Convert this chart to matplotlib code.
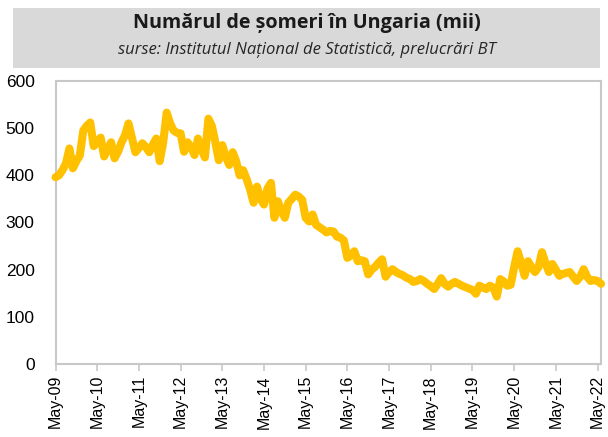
import matplotlib
matplotlib.use("Agg")
import matplotlib.pyplot as plt
from matplotlib.patches import Rectangle

title = "Numărul de șomeri în Ungaria (mii)"
subtitle = "surse: Institutul Național de Statistică, prelucrări BT"

tick_labels = ["May-09", "May-10", "May-11", "May-12", "May-13", "May-14", "May-15",
               "May-16", "May-17", "May-18", "May-19", "May-20", "May-21", "May-22"]

# monthly values, May 2009 .. June 2022 (thousands)
values = [
    396, 400, 411, 425, 457, 415, 430, 442, 495, 505, 512, 462,   # 2009-05 .. 2010-04
    470, 480, 440, 455, 470, 436, 450, 470, 485, 510, 480, 449,   # 2010-05 .. 2011-04
    458, 468, 460, 449, 465, 478, 430, 470, 533, 510, 495, 490,   # 2011-05 .. 2012-04
    489, 450, 470, 460, 443, 478, 455, 438, 520, 505, 470, 432,   # 2012-05 .. 2013-04
    464, 440, 422, 449, 430, 400, 411, 392, 370, 342, 376, 350,   # 2013-05 .. 2014-04
    338, 372, 384, 310, 345, 325, 310, 342, 350, 359, 355, 348,   # 2014-05 .. 2015-04
    310, 302, 317, 295, 290, 285, 279, 282, 281, 270, 268, 262,   # 2015-05 .. 2016-04
    225, 230, 239, 218, 220, 218, 190, 200, 206, 215, 222, 185,   # 2016-05 .. 2017-04
    195, 201, 195, 191, 188, 183, 180, 174, 176, 180, 176, 170,   # 2017-05 .. 2018-04
    165, 159, 170, 182, 170, 164, 170, 174, 170, 166, 163, 160,   # 2018-05 .. 2019-04
    157, 149, 166, 162, 159, 166, 162, 143, 180, 175, 166, 168,   # 2019-05 .. 2020-04
    205, 239, 215, 187, 218, 205, 195, 205, 237, 215, 195, 212,   # 2020-05 .. 2021-04
    200, 187, 191, 193, 195, 185, 176, 185, 201, 185, 176, 178,   # 2021-05 .. 2022-04
    176, 170,                                                     # 2022-05 .. 2022-06
]

yticks = [0, 100, 200, 300, 400, 500, 600]

W, H = 608, 437
fig = plt.figure(figsize=(W / 100, H / 100), dpi=100)

# title box
fig.patches.append(Rectangle((13 / W, 1 - 68 / H), (600 - 13) / W, 60 / H,
                             transform=fig.transFigure, facecolor="#d9d9d9",
                             edgecolor="none", zorder=0))
fig.text(0.5 * (13 + 600) / W, 1 - 23 / H, title, ha="center", va="center",
         fontsize=14.2, fontweight="bold", family="Open Sans", color="#1a1a1a")
fig.text(0.5 * (13 + 600) / W, 1 - 50 / H, subtitle, ha="center", va="center",
         fontsize=12, style="italic", family="Open Sans", color="#262626")

ax = fig.add_axes([55.5 / W, (H - 364) / H, (601 - 55.5) / W, (364 - 81) / H])
x = list(range(len(values)))
ax.plot(x, values, color="#FFC000", lw=5.8, solid_joinstyle="round",
        solid_capstyle="round", clip_on=False, zorder=3)

ax.set_ylim(0, 600)
ax.set_xlim(0, len(values) - 1)
ax.set_yticks(yticks)
ax.set_yticklabels([str(v) for v in yticks], fontsize=12.5, family="Liberation Sans")
ax.tick_params(axis="y", length=0, pad=15)
ax.set_xticks([12 * i for i in range(len(tick_labels))])
ax.set_xticklabels(tick_labels, rotation=90, fontsize=11.5, family="Liberation Sans")
ax.tick_params(axis="x", length=5, width=1.2, color="#c8c8c8", pad=3, direction="out")
for s in ax.spines.values():
    s.set_color("#c8c8c8")
    s.set_linewidth(1.5)

fig.savefig("out.png", dpi=100)
